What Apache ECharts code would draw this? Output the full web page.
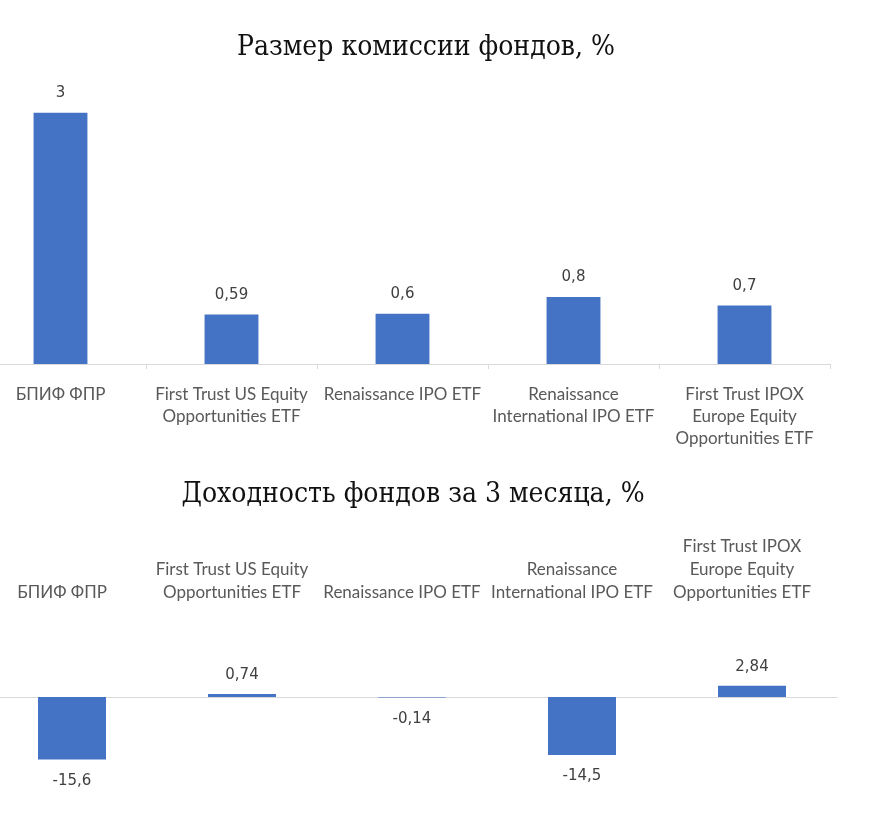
<!DOCTYPE html>
<html>
<head>
<meta charset="utf-8">
<script src="https://cdn.jsdelivr.net/npm/echarts@6/dist/echarts.min.js"></script>
<style>
html,body{margin:0;padding:0;background:#fff;}
#chart{width:871px;height:819px;}
</style>
</head>
<body>
<div id="chart"></div>
<script>
const categories = [
  'БПИФ ФПР',
  'First Trust US Equity\nOpportunities ETF',
  'Renaissance IPO ETF',
  'Renaissance\nInternational IPO ETF',
  'First Trust IPOX\nEurope Equity\nOpportunities ETF'
];
const commission = [3, 0.59, 0.6, 0.8, 0.7];
const returns3m = [-15.6, 0.74, -0.14, -14.5, 2.84];
const title1 = 'Размер комиссии фондов, %';
const title2 = 'Доходность фондов за 3 месяца, %';

const barColor = '#4472C4';
const labelFont = 'Lato, "Open Sans", sans-serif';
const valueFont = '"DejaVu Sans", sans-serif';
const titleFont = '"DejaVu Serif Condensed", "DejaVu Serif", serif';
const fmt = v => String(v).replace('.', ',');

const valueLabel = {
  show: true,
  color: '#404040',
  fontSize: 15,
  fontFamily: valueFont,
  formatter: p => fmt(p.value)
};

const returnsData = returns3m.map(v => ({
  value: v,
  label: { position: v < 0 ? 'bottom' : 'top', distance: v < 0 ? 14 : 11 }
}));

const chart = echarts.init(document.getElementById('chart'));
chart.setOption({
  animation: false,
  backgroundColor: '#ffffff',
  title: [
    { text: title1, left: 421, top: 29, textAlign: 'center',
      textStyle: { fontFamily: titleFont, fontWeight: 'normal', fontSize: 28, color: '#111' } },
    { text: title2, left: 408, top: 476, textAlign: 'center',
      textStyle: { fontFamily: titleFont, fontWeight: 'normal', fontSize: 28, color: '#111' } }
  ],
  grid: [
    { left: -25, right: 41, top: 71, height: 293, outerBoundsMode: 'none', containLabel: false },
    { left: -13, right: 34, top: 677, height: 100, outerBoundsMode: 'none', containLabel: false }
  ],
  xAxis: [
    { type: 'category', gridIndex: 0, data: categories,
      axisLine: { lineStyle: { color: '#d9d9d9' } },
      axisTick: { show: true, length: 5, lineStyle: { color: '#d9d9d9' } },
      axisLabel: { color: '#595959', fontSize: 17, fontFamily: labelFont, lineHeight: 22, margin: 20, interval: 0 } },
    { type: 'category', gridIndex: 1, data: categories, position: 'bottom',
      axisLine: { onZero: true, lineStyle: { color: '#d9d9d9' } },
      axisTick: { show: false },
      axisLabel: { show: false } },
    { type: 'category', gridIndex: 1, data: categories, position: 'top',
      axisLine: { show: false, onZero: false },
      axisTick: { show: false },
      axisLabel: { color: '#595959', fontSize: 17, fontFamily: labelFont, lineHeight: 23, margin: 73, interval: 0, padding: [0, 20, 0, 0] } }
  ],
  yAxis: [
    { type: 'value', gridIndex: 0, min: 0, max: 3.5, show: false },
    { type: 'value', gridIndex: 1, min: -20, max: 5, show: false }
  ],
  series: [
    { type: 'bar', xAxisIndex: 0, yAxisIndex: 0, data: commission, barWidth: '31.5%',
      itemStyle: { color: barColor },
      label: Object.assign({}, valueLabel, { position: 'top', distance: 12 }) },
    { type: 'bar', xAxisIndex: 1, yAxisIndex: 1, data: returnsData, barWidth: '40%',
      itemStyle: { color: barColor },
      label: valueLabel }
  ]
});
</script>
</body>
</html>
